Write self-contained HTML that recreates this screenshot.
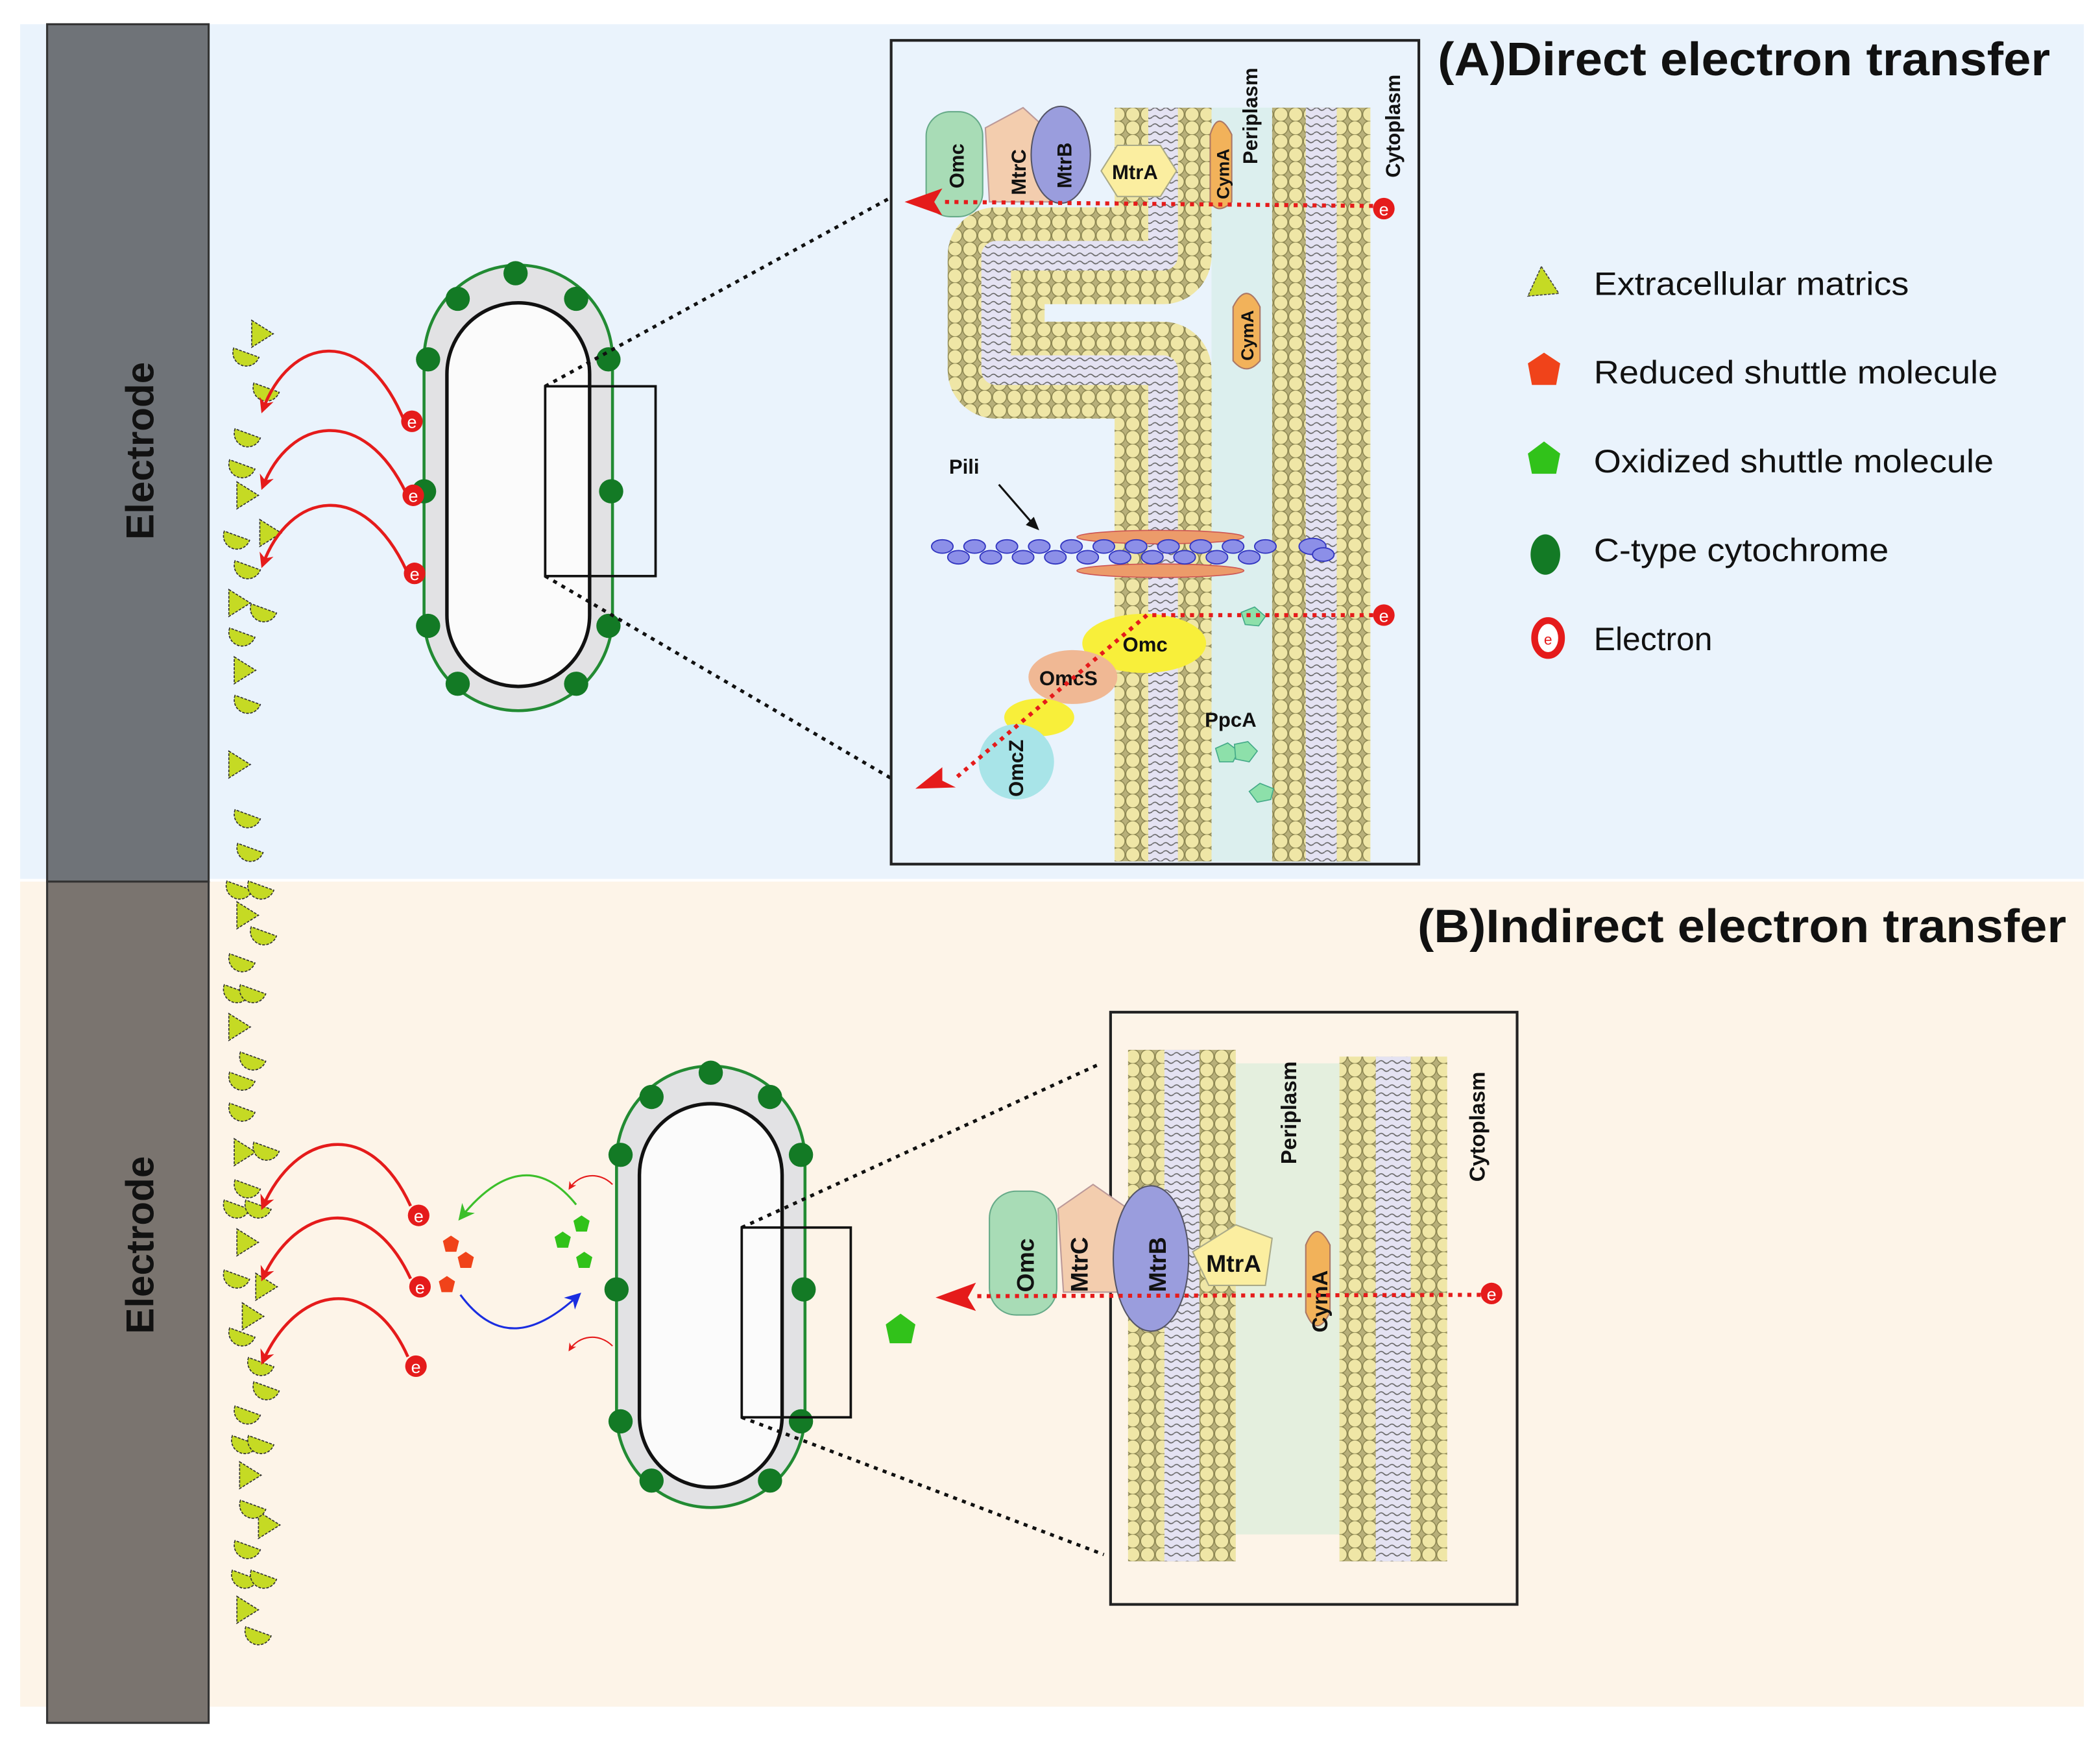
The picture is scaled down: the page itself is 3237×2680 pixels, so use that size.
<!DOCTYPE html>
<html><head><meta charset="utf-8"><style>html,body{margin:0;padding:0;background:#fff}svg{display:block}</style></head>
<body>
<svg width="3237" height="2680" viewBox="0 0 1560 1292" preserveAspectRatio="none" xmlns="http://www.w3.org/2000/svg" font-family="Liberation Sans, Arial, sans-serif">
<defs>
<pattern id="beads" patternUnits="userSpaceOnUse" width="11" height="10">
<rect width="11" height="10" fill="#b8b07a"/>
<circle cx="5.5" cy="5" r="5.2" fill="#efe6a6" stroke="#8a8450" stroke-width="0.7"/>
</pattern>
<pattern id="tails" patternUnits="userSpaceOnUse" width="8" height="6">
<rect width="8" height="6" fill="#e4e2f2"/>
<path d="M0 3 q2 -2 4 0 t4 0" fill="none" stroke="#666" stroke-width="0.8"/>
</pattern>
<marker id="ar" viewBox="0 0 10 10" refX="8" refY="5" markerWidth="5" markerHeight="5" orient="auto"><path d="M0 0 L10 5 L0 10 L3 5z" fill="#e51b1b"/></marker>
<marker id="ag" viewBox="0 0 10 10" refX="8" refY="5" markerWidth="8" markerHeight="8" orient="auto"><path d="M0 0 L10 5 L0 10 L3 5z" fill="#3cbf2a"/></marker>
<marker id="ab" viewBox="0 0 10 10" refX="8" refY="5" markerWidth="8" markerHeight="8" orient="auto"><path d="M0 0 L10 5 L0 10 L3 5z" fill="#1a2de0"/></marker>
<marker id="ar2" viewBox="0 0 10 10" refX="8" refY="5" markerWidth="6" markerHeight="6" orient="auto"><path d="M0 0 L10 5 L0 10 L3 5z" fill="#e51b1b"/></marker>
<g id="tri"><path d="M0 0 L16 10 L0 20z" fill="#c5da24" stroke="#333" stroke-width="0.8" stroke-dasharray="2 1"/></g>
<g id="half"><path d="M0 0 A10 10 0 0 0 20 0z" fill="#c5da24" stroke="#333" stroke-width="0.8" stroke-dasharray="2 1" transform="rotate(20 10 0)"/></g>
<g id="elec"><circle r="8" fill="#e51b1b"/><text y="5" text-anchor="middle" font-size="13" fill="#fff">e</text></g>
</defs>

<rect width="1560" height="1292" fill="#fff"/>
<rect x="15" y="18" width="1533" height="635" fill="#eaf3fc"/>
<rect x="15" y="655" width="1533" height="613" fill="#fdf4e8"/>
<rect x="35" y="18" width="120" height="637" fill="#6f7378" stroke="#333" stroke-width="1.5"/>
<rect x="35" y="655" width="120" height="625" fill="#7a746f" stroke="#333" stroke-width="1.5"/>
<text transform="translate(114 335) rotate(-90)" text-anchor="middle" font-size="29" font-weight="bold" fill="#111">Electrode</text>
<text transform="translate(114 925) rotate(-90)" text-anchor="middle" font-size="29" font-weight="bold" fill="#111">Electrode</text>

<text x="1068" y="56" font-size="35" font-weight="bold" fill="#111" textLength="455" lengthAdjust="spacingAndGlyphs">(A)Direct electron transfer</text>
<text x="1053" y="700" font-size="35" font-weight="bold" fill="#111" textLength="482" lengthAdjust="spacingAndGlyphs">(B)Indirect electron transfer</text>

<!-- matrix column -->
<g>
<use href="#tri" x="187" y="238"/><use href="#half" x="173" y="262"/><use href="#half" x="188" y="288"/>
<use href="#half" x="174" y="322"/><use href="#half" x="170" y="345"/><use href="#tri" x="176" y="358"/>
<use href="#tri" x="193" y="386"/><use href="#half" x="166" y="398"/><use href="#half" x="174" y="420"/>
<use href="#tri" x="170" y="438"/><use href="#half" x="186" y="452"/><use href="#half" x="170" y="470"/>
<use href="#tri" x="174" y="488"/><use href="#half" x="174" y="520"/><use href="#tri" x="170" y="558"/>
<use href="#half" x="174" y="605"/><use href="#half" x="176" y="630"/><use href="#half" x="168" y="658"/>
<use href="#half" x="184" y="658"/><use href="#tri" x="176" y="670"/><use href="#half" x="186" y="692"/>
<use href="#half" x="170" y="712"/><use href="#half" x="166" y="735"/><use href="#half" x="178" y="735"/>
<use href="#tri" x="170" y="753"/><use href="#half" x="178" y="785"/><use href="#half" x="170" y="800"/>
<use href="#half" x="170" y="823"/><use href="#tri" x="174" y="846"/><use href="#half" x="188" y="852"/>
<use href="#half" x="174" y="880"/><use href="#half" x="166" y="895"/><use href="#half" x="182" y="895"/>
<use href="#tri" x="176" y="913"/><use href="#half" x="166" y="947"/><use href="#tri" x="190" y="946"/>
<use href="#tri" x="180" y="968"/><use href="#half" x="170" y="990"/><use href="#half" x="184" y="1012"/>
<use href="#half" x="188" y="1030"/><use href="#half" x="174" y="1048"/><use href="#half" x="172" y="1070"/>
<use href="#half" x="184" y="1070"/><use href="#tri" x="178" y="1086"/><use href="#tri" x="192" y="1123"/>
<use href="#half" x="178" y="1118"/><use href="#half" x="174" y="1148"/><use href="#half" x="172" y="1170"/>
<use href="#half" x="186" y="1170"/><use href="#tri" x="176" y="1186"/><use href="#half" x="182" y="1212"/>
</g>

<!-- Cell A -->
<rect x="315" y="197" width="140" height="331" rx="70" fill="#e2e2e4" stroke="#228b33" stroke-width="2.2"/>
<rect x="332" y="225" width="106" height="285" rx="53" fill="#fbfbfb" stroke="#111" stroke-width="2.6"/>
<g fill="#137a25">
<circle cx="383" cy="203" r="9"/><circle cx="340" cy="222" r="9"/><circle cx="428" cy="222" r="9"/>
<circle cx="318" cy="267" r="9"/><circle cx="452" cy="267" r="9"/><circle cx="315" cy="365" r="9"/><circle cx="454" cy="365" r="9"/>
<circle cx="318" cy="465" r="9"/><circle cx="452" cy="465" r="9"/><circle cx="340" cy="508" r="9"/><circle cx="428" cy="508" r="9"/>
</g>
<rect x="405" y="287" width="82" height="141" fill="none" stroke="#111" stroke-width="1.8"/>
<path d="M405 287 L665 145 M405 428 L665 580" stroke="#111" stroke-width="2.5" stroke-dasharray="3 4" fill="none"/>
<g fill="none" stroke="#e51b1b" stroke-width="2.2">
<path d="M300 312 C 270 240 215 250 195 305" marker-end="url(#ar)"/>
<path d="M302 367 C 270 300 215 310 195 362" marker-end="url(#ar)"/>
<path d="M302 424 C 270 355 215 365 195 420" marker-end="url(#ar)"/>
</g>
<use href="#elec" x="306" y="313"/><use href="#elec" x="307" y="368"/><use href="#elec" x="308" y="426"/>

<!-- Inset A -->
<rect x="662" y="30" width="392" height="612" fill="#eaf3fc" stroke="#222" stroke-width="2"/>
<rect x="900" y="80" width="45" height="560" fill="#dcefee"/>
<path d="M864 80 V190 H740 V275 H864 V640" fill="none" stroke="url(#beads)" stroke-width="72" stroke-linejoin="round"/>
<path d="M864 80 V190 H740 V275 H864 V640" fill="none" stroke="url(#tails)" stroke-width="22" stroke-linejoin="round"/>
<rect x="945" y="80" width="73" height="560" fill="url(#beads)"/>
<rect x="970" y="80" width="23" height="560" fill="url(#tails)"/>
<text transform="translate(934 122) rotate(-90)" font-size="15" font-weight="bold" fill="#111">Periplasm</text>
<text transform="translate(1040 132) rotate(-90)" font-size="15" font-weight="bold" fill="#111">Cytoplasm</text>
<!-- proteins -->
<rect x="688" y="83" width="42" height="78" rx="18" fill="#a8dcb6" stroke="#6a8"/>
<path d="M732 95 L760 80 L782 100 L780 150 L735 150z" fill="#f3cdae" stroke="#b99"/>
<ellipse cx="788" cy="115" rx="22" ry="36" fill="#9a9ddd" stroke="#556"/>
<path d="M818 127 L830 108 L862 108 L874 127 L862 146 L830 146z" fill="#fbeea0" stroke="#aa8"/>
<path d="M899 100 Q905 80 915 100 L915 150 Q905 160 899 150z" fill="#f2b25a" stroke="#a76"/>
<path d="M916 228 Q926 208 936 228 L936 268 Q926 280 916 268z" fill="#f2b25a" stroke="#a76"/>
<g font-weight="bold" fill="#111" font-size="15">
<text transform="translate(716 140) rotate(-90)">Omc</text>
<text transform="translate(762 145) rotate(-90)">MtrC</text>
<text transform="translate(796 140) rotate(-90)">MtrB</text>
<text x="826" y="133">MtrA</text>
<text transform="translate(913 148) rotate(-90)" font-size="13">CymA</text>
<text transform="translate(931 268) rotate(-90)" font-size="13">CymA</text>
</g>
<path d="M1020 153 L700 150" stroke="#e51b1b" stroke-width="3" stroke-dasharray="3 4" fill="none"/>
<path d="M672 150 L700 140 L694 150 L700 160z" fill="#e51b1b"/>
<use href="#elec" x="1028" y="155"/>
<!-- pili -->
<g fill="#ec9b6a" stroke="#c55" stroke-width="0.8">
<ellipse cx="862" cy="399" rx="62" ry="5"/><ellipse cx="862" cy="424" rx="62" ry="5"/>
</g>
<g fill="#8c8fe8" stroke="#3236c0" stroke-width="0.9">
<ellipse cx="700" cy="406" rx="8" ry="5"/><ellipse cx="712" cy="414" rx="8" ry="5"/><ellipse cx="724" cy="406" rx="8" ry="5"/>
<ellipse cx="736" cy="414" rx="8" ry="5"/><ellipse cx="748" cy="406" rx="8" ry="5"/><ellipse cx="760" cy="414" rx="8" ry="5"/>
<ellipse cx="772" cy="406" rx="8" ry="5"/><ellipse cx="784" cy="414" rx="8" ry="5"/><ellipse cx="796" cy="406" rx="8" ry="5"/>
<ellipse cx="808" cy="414" rx="8" ry="5"/><ellipse cx="820" cy="406" rx="8" ry="5"/><ellipse cx="832" cy="414" rx="8" ry="5"/>
<ellipse cx="844" cy="406" rx="8" ry="5"/><ellipse cx="856" cy="414" rx="8" ry="5"/><ellipse cx="868" cy="406" rx="8" ry="5"/>
<ellipse cx="880" cy="414" rx="8" ry="5"/><ellipse cx="892" cy="406" rx="8" ry="5"/><ellipse cx="904" cy="414" rx="8" ry="5"/>
<ellipse cx="916" cy="406" rx="8" ry="5"/><ellipse cx="928" cy="414" rx="8" ry="5"/><ellipse cx="940" cy="406" rx="8" ry="5"/>
<ellipse cx="975" cy="406" rx="10" ry="6"/><ellipse cx="983" cy="412" rx="8" ry="5"/>
</g>
<text x="705" y="352" font-size="15" font-weight="bold" fill="#111">Pili</text>
<path d="M742 360 L768 390" stroke="#111" stroke-width="1.5"/><path d="M772 394 L762 390 L768 384z" fill="#111"/>
<ellipse cx="850" cy="478" rx="46" ry="22" fill="#f8ef3a"/>
<ellipse cx="797" cy="503" rx="33" ry="20" fill="#f0b894"/>
<ellipse cx="772" cy="533" rx="26" ry="14" fill="#f8ef3a"/>
<circle cx="755" cy="566" r="28" fill="#a8e4e8"/>
<g font-weight="bold" fill="#111" font-size="15">
<text x="834" y="484">Omc</text><text x="772" y="509">OmcS</text>
<text transform="translate(760 592) rotate(-90)">OmcZ</text>
<text x="895" y="540">PpcA</text>
</g>
<g fill="#8de0aa" stroke="#4a8" stroke-width="0.8">
<path d="M903 556 L912 552 L920 558 L916 566 L906 566z"/><path d="M917 553 L927 551 L934 558 L928 566 L918 564z"/>
<path d="M928 588 L936 582 L946 586 L944 594 L934 596z"/><path d="M922 455 L932 451 L940 458 L935 465 L925 464z"/>
</g>
<path d="M1020 457 L852 457 L710 578" stroke="#e51b1b" stroke-width="3" stroke-dasharray="3 4" fill="none"/>
<path d="M680 586 L700 570 L700 580 L710 585z" fill="#e51b1b"/>
<use href="#elec" x="1028" y="457"/>

<!-- Legend -->
<path d="M1145 198 L1158 218 L1135 220z" fill="#c5da24" stroke="#444" stroke-width="0.8" stroke-dasharray="2 1"/>
<path d="M1147 262 L1159 270 L1156 286 L1138 286 L1135 270z" fill="#f0431a"/>
<path d="M1147 328 L1159 337 L1156 352 L1138 352 L1135 337z" fill="#31c21a"/>
<ellipse cx="1148" cy="412" rx="11" ry="15" fill="#137a25"/>
<ellipse cx="1150" cy="474" rx="10" ry="13" fill="#fff" stroke="#e51b1b" stroke-width="5"/>
<text x="1150" y="479" text-anchor="middle" font-size="11" fill="#e51b1b">e</text>
<g font-size="24" fill="#111">
<text x="1184" y="219" textLength="234" lengthAdjust="spacingAndGlyphs">Extracellular matrics</text>
<text x="1184" y="285" textLength="300" lengthAdjust="spacingAndGlyphs">Reduced shuttle molecule</text>
<text x="1184" y="351" textLength="297" lengthAdjust="spacingAndGlyphs">Oxidized shuttle molecule</text>
<text x="1184" y="417" textLength="219" lengthAdjust="spacingAndGlyphs">C-type cytochrome</text>
<text x="1184" y="483">Electron</text>
</g>

<!-- Cell B -->
<rect x="458" y="792" width="140" height="328" rx="70" fill="#e2e2e4" stroke="#228b33" stroke-width="2.2"/>
<rect x="475" y="820" width="106" height="285" rx="53" fill="#fbfbfb" stroke="#111" stroke-width="2.6"/>
<g fill="#137a25">
<circle cx="528" cy="797" r="9"/><circle cx="484" cy="815" r="9"/><circle cx="572" cy="815" r="9"/>
<circle cx="461" cy="858" r="9"/><circle cx="595" cy="858" r="9"/><circle cx="458" cy="958" r="9"/><circle cx="597" cy="958" r="9"/>
<circle cx="461" cy="1056" r="9"/><circle cx="595" cy="1056" r="9"/><circle cx="484" cy="1100" r="9"/><circle cx="572" cy="1100" r="9"/>
</g>
<rect x="551" y="912" width="81" height="141" fill="none" stroke="#111" stroke-width="1.8"/>
<path d="M551 912 L818 790 M551 1053 L820 1155" stroke="#111" stroke-width="2.5" stroke-dasharray="3 4" fill="none"/>
<g fill="none" stroke="#e51b1b" stroke-width="2.2">
<path d="M305 896 C 275 830 220 840 195 897" marker-end="url(#ar)"/>
<path d="M305 950 C 275 885 220 895 195 950" marker-end="url(#ar)"/>
<path d="M303 1008 C 275 945 220 955 195 1012" marker-end="url(#ar)"/>
</g>
<use href="#elec" x="311" y="903"/><use href="#elec" x="312" y="956"/><use href="#elec" x="309" y="1015"/>
<path d="M428 895 C 400 860 370 870 342 905" fill="none" stroke="#3cbf2a" stroke-width="1.5" marker-end="url(#ag)"/>
<path d="M342 962 C 370 1000 400 990 430 962" fill="none" stroke="#1a2de0" stroke-width="1.5" marker-end="url(#ab)"/>
<path d="M455 880 C 445 870 430 872 423 883" fill="none" stroke="#e51b1b" stroke-width="1" marker-end="url(#ar2)"/>
<path d="M455 1000 C 445 990 430 992 423 1003" fill="none" stroke="#e51b1b" stroke-width="1" marker-end="url(#ar2)"/>
<g fill="#f0431a">
<path d="M335 918 L341 922 L339 930 L331 930 L329 922z"/><path d="M346 930 L352 934 L350 942 L342 942 L340 934z"/><path d="M332 948 L338 952 L336 960 L328 960 L326 952z"/>
</g>
<g fill="#31c21a">
<path d="M432 903 L438 907 L436 915 L428 915 L426 907z"/><path d="M418 915 L424 919 L422 927 L414 927 L412 919z"/><path d="M434 930 L440 934 L438 942 L430 942 L428 934z"/>
<path d="M669 976 L680 984 L677 998 L661 998 L658 984z"/>
</g>

<!-- Inset B -->
<rect x="825" y="752" width="302" height="440" fill="#fdf4e8" stroke="#222" stroke-width="2"/>
<rect x="918" y="790" width="77" height="350" fill="#e4efde"/>
<rect x="838" y="780" width="80" height="380" fill="url(#beads)"/>
<rect x="865" y="780" width="26" height="380" fill="url(#tails)"/>
<rect x="995" y="785" width="80" height="375" fill="url(#beads)"/>
<rect x="1022" y="785" width="26" height="375" fill="url(#tails)"/>
<text transform="translate(963 865) rotate(-90)" font-size="16" font-weight="bold" fill="#111">Periplasm</text>
<text transform="translate(1103 878) rotate(-90)" font-size="16" font-weight="bold" fill="#111">Cytoplasm</text>
<rect x="735" y="885" width="50" height="92" rx="20" fill="#a8dcb6" stroke="#6a8"/>
<path d="M786 898 L812 880 L838 898 L836 960 L790 960z" fill="#f3cdae" stroke="#b99"/>
<ellipse cx="855" cy="935" rx="28" ry="54" fill="#9a9ddd" stroke="#556"/>
<path d="M918 910 L945 920 L940 955 L898 955 L886 930z" fill="#fbeea0" stroke="#aa8"/>
<path d="M970 925 Q978 905 988 925 L988 975 Q978 995 970 975z" fill="#f2b25a" stroke="#a76"/>
<g font-weight="bold" fill="#111" font-size="18">
<text transform="translate(768 960) rotate(-90)">Omc</text>
<text transform="translate(808 960) rotate(-90)">MtrC</text>
<text transform="translate(866 960) rotate(-90)">MtrB</text>
<text x="896" y="945">MtrA</text>
<text transform="translate(986 990) rotate(-90)" font-size="16">CymA</text>
</g>
<path d="M1100 962 L725 963" stroke="#e51b1b" stroke-width="3" stroke-dasharray="3 4" fill="none"/>
<path d="M695 964 L725 953 L719 964 L725 974z" fill="#e51b1b"/>
<use href="#elec" x="1108" y="961"/>
</svg>
</body></html>
